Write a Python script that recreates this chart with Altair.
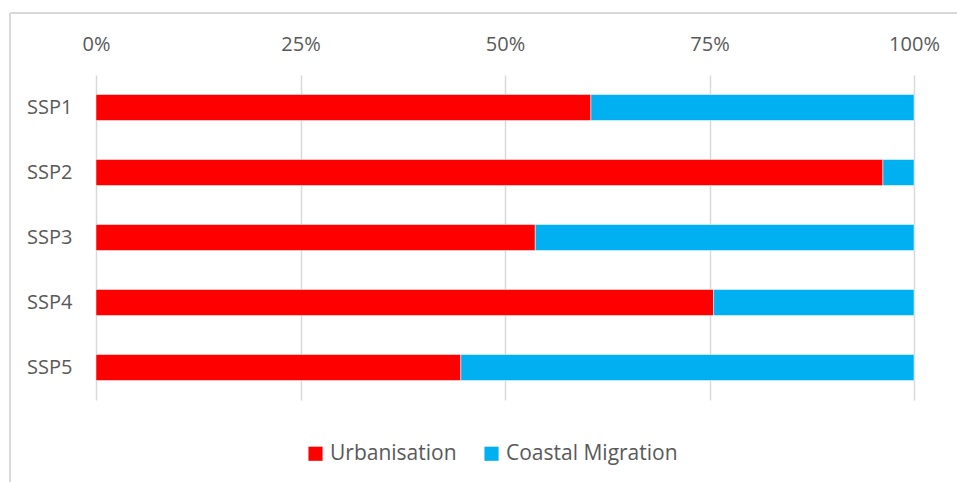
import altair as alt
import pandas as pd

scenarios = ["SSP1", "SSP2", "SSP3", "SSP4", "SSP5"]
urbanisation = [0.605, 0.962, 0.537, 0.755, 0.446]
coastal = [round(1 - u, 3) for u in urbanisation]
series = ["Urbanisation", "Coastal Migration"]
colors = ["#FF0000", "#00B0F0"]

rows = []
for s, u, c in zip(scenarios, urbanisation, coastal):
    rows.append({"scenario": s, "series": series[0], "value": u, "ord": 0})
    rows.append({"scenario": s, "series": series[1], "value": c, "ord": 1})
df = pd.DataFrame(rows)

FONT = "Open Sans"
GREY = "#595959"
FS = 20
LFS = 21

bars = alt.Chart(df).mark_bar(stroke="white", strokeWidth=0.5).encode(
    y=alt.Y("scenario:N", sort=scenarios, title=None,
            scale=alt.Scale(paddingInner=0.6, paddingOuter=0.3),
            axis=alt.Axis(domain=False, ticks=False, labelPadding=24,
                          labelFontSize=FS, labelColor=GREY, labelFont=FONT)),
    x=alt.X("value:Q", stack="zero", title=None,
            scale=alt.Scale(domain=[0, 1], nice=False),
            axis=alt.Axis(orient="top", format="%", values=[0, 0.25, 0.5, 0.75, 1],
                          domain=False, ticks=False, labelPadding=21, labelFlush=False,
                          labelFontSize=FS, labelColor=GREY, labelFont=FONT,
                          grid=True, gridColor="#D9D9D9", gridWidth=1.5)),
    color=alt.Color("series:N", sort=series,
                    scale=alt.Scale(domain=series, range=colors),
                    legend=alt.Legend(orient="none", legendX=209, legendY=368,
                                      direction="horizontal", title=None,
                                      symbolType="square", symbolSize=200,
                                      symbolStrokeWidth=0, columnPadding=24,
                                      labelFontSize=LFS, labelColor=GREY,
                                      labelFont=FONT, labelOffset=4,
                                      labelLimit=400)),
    order=alt.Order("ord:Q"),
)

border_df = pd.DataFrame({"k": [0]})
left_border = alt.Chart(border_df).mark_rule(color="#D9D9D9", strokeWidth=2).encode(
    x=alt.value(-86), y=alt.value(-62), y2=alt.value(420)
)
top_border = alt.Chart(border_df).mark_rule(color="#D9D9D9", strokeWidth=2).encode(
    x=alt.value(-86), x2=alt.value(880), y=alt.value(-62)
)

chart = alt.layer(bars, left_border, top_border).properties(
    width=818, height=325,
    background="white",
    autosize=alt.AutoSizeParams(type="none"),
    padding={"left": 96, "top": 75, "right": 43, "bottom": 82},
).configure_view(strokeWidth=0, stroke=None)

chart.save("out.html", embed_options={"renderer": "svg", "actions": False})
